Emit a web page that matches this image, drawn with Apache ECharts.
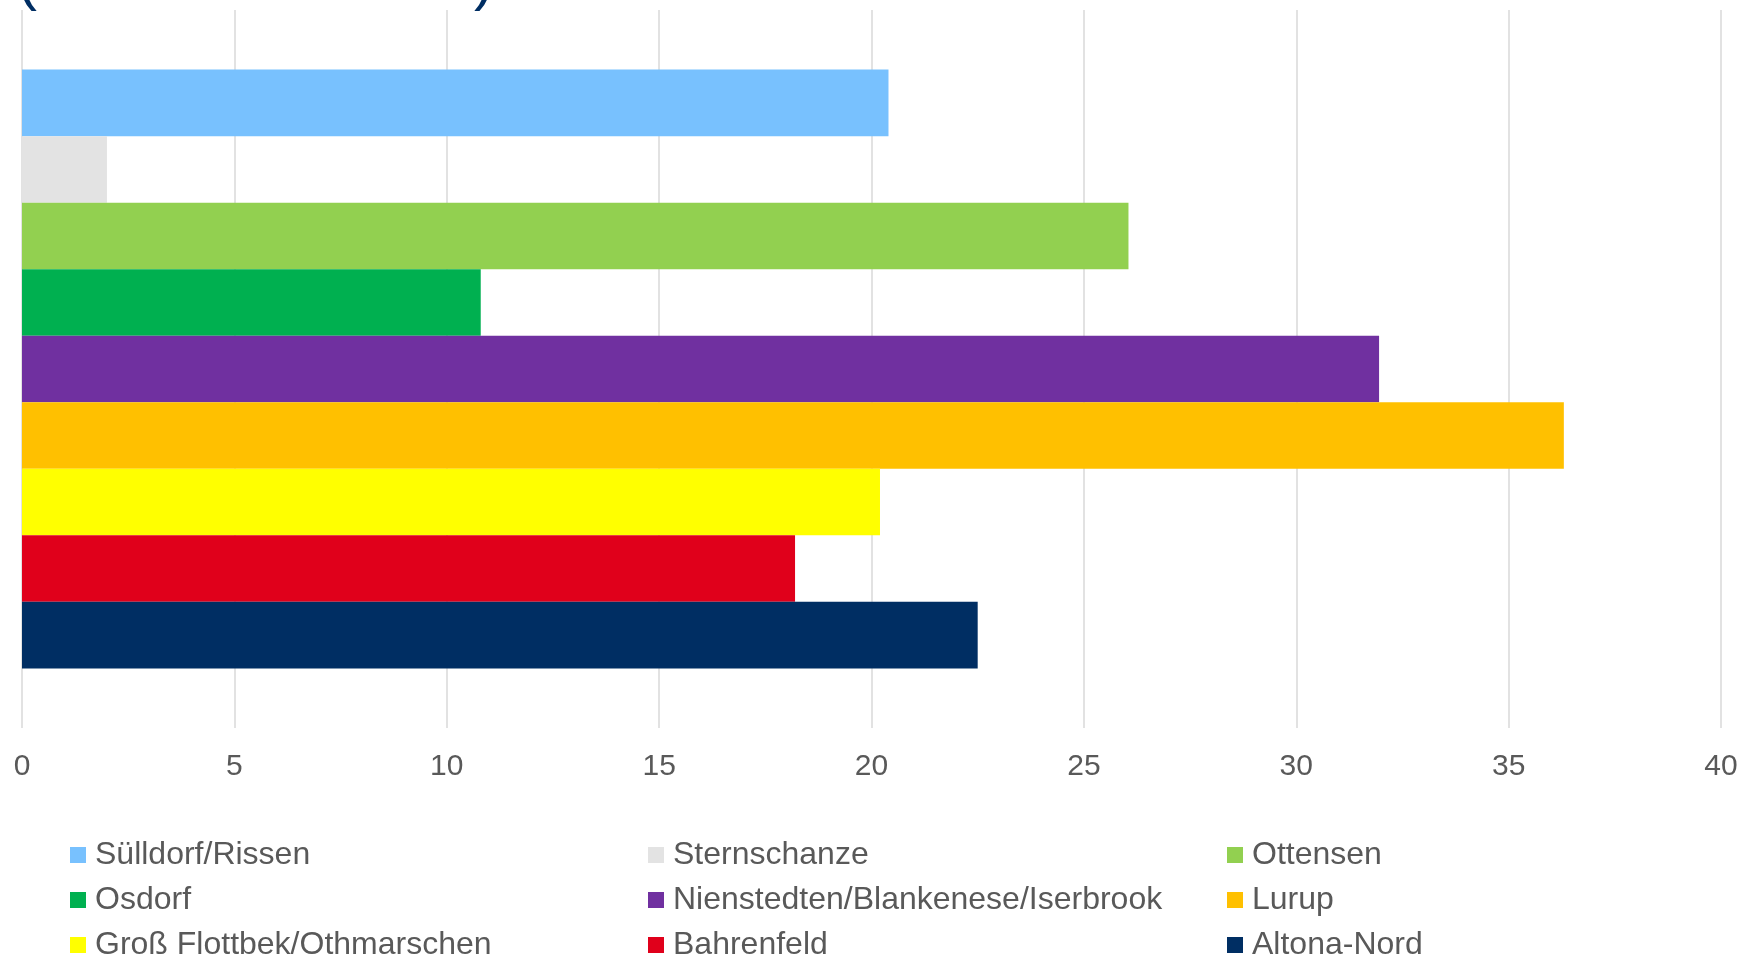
<!DOCTYPE html>
<html>
<head>
<meta charset="utf-8">
<script src="https://cdn.jsdelivr.net/npm/echarts@6/dist/echarts.min.js"></script>
<style>
  html, body { margin: 0; padding: 0; background: #fff; }
  #chart { width: 1742px; height: 957px; }
</style>
</head>
<body>
<div id="chart"></div>
<script>
    // Stadtteile (Bezirk Altona), one series each
    const districts = [
        'Sülldorf/Rissen', 'Sternschanze', 'Ottensen',
        'Osdorf', 'Nienstedten/Blankenese/Iserbrook', 'Lurup',
        'Groß Flottbek/Othmarschen', 'Bahrenfeld', 'Altona-Nord'
    ];
    const values = [20.4, 2.0, 26.05, 10.8, 31.95, 36.3, 20.2, 18.2, 22.5];
    const colors = ['#78c1fe', '#e3e3e3', '#92d050', '#00b050', '#7030a0', '#ffc000', '#ffff00', '#e0001b', '#002e63'];
    const xTicks = [0, 5, 10, 15, 20, 25, 30, 35, 40];

    const chartDom = document.getElementById('chart');
    const myChart = echarts.init(chartDom);
    const font = 'Arial, "Liberation Sans", sans-serif';

    const series = districts.map((name, i) => ({
        name: name,
        type: 'bar',
        barGap: '0%',
        barCategoryGap: '16.6%',
        itemStyle: { color: colors[i] },
        data: [values[i]]
    }));

    // legend in three columns
    const legendCol = (items, left) => ({
        orient: 'vertical',
        left: left,
        top: 834,
        height: 300,
        itemWidth: 16,
        itemHeight: 16,
        itemGap: 13,
        icon: 'rect',
        selectedMode: false,
        data: items,
        textStyle: { fontFamily: font, fontSize: 32, color: '#595959', lineHeight: 32, padding: [0, 0, 0, 4] }
    });

    const option = {
        animation: false,
        title: {
            text: '(Anteil in Prozent)',
            left: 12,
            top: -53,
            textStyle: { fontFamily: font, fontSize: 60, fontWeight: 'normal', color: '#002e63', lineHeight: 60 }
        },
        grid: { left: 22, right: 21, top: 10, bottom: 229 },
        xAxis: {
            type: 'value',
            min: xTicks[0],
            max: xTicks[xTicks.length - 1],
            interval: xTicks[1] - xTicks[0],
            axisLine: { show: false },
            axisTick: { show: false },
            axisLabel: { fontFamily: font, fontSize: 30, color: '#595959', margin: 24 },
            splitLine: { show: true, lineStyle: { color: '#d9d9d9', width: 1.5 } }
        },
        yAxis: {
            type: 'category',
            data: [''],
            axisLine: { show: false },
            axisTick: { show: false },
            axisLabel: { show: false }
        },
        legend: [
            legendCol([districts[0], districts[3], districts[6]], 65),
            legendCol([districts[1], districts[4], districts[7]], 643),
            legendCol([districts[2], districts[5], districts[8]], 1222)
        ],
        series: series
    };

    myChart.setOption(option);
</script>
</body>
</html>
